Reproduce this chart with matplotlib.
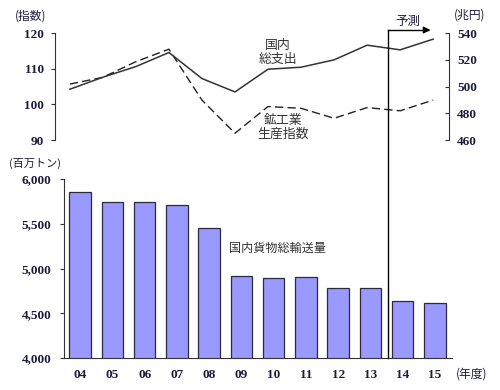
import matplotlib
matplotlib.use('Agg')
import matplotlib.pyplot as plt
from matplotlib.lines import Line2D
import matplotlib.transforms as mtransforms

plt.rcParams['font.family'] = ['Noto Sans CJK JP', 'DejaVu Sans']

# data
years = ['04', '05', '06', '07', '08', '09', '10', '11', '12', '13', '14', '15']
gdp = [498, 507, 515, 525.5, 506, 496, 513, 514.5, 520, 531, 527.5, 535.5]        # 国内総支出 (兆円)
iip = [105.7, 107.6, 112, 115.5, 101.2, 91.9, 99.4, 98.9, 96.1, 99.1, 98.2, 101.2]  # 鉱工業生産指数
freight = [5850, 5740, 5740, 5715, 5455, 4915, 4895, 4900, 4780, 4780, 4635, 4615]  # 国内貨物総輸送量 (百万トン)
forecast_x = 9.55

num_font = dict(family='Liberation Serif', fontweight='bold', color='#1c1c3c')
x = range(len(years))

fig = plt.figure(figsize=(5, 3.9), dpi=100)

# top chart: index and GDP
ax1 = fig.add_axes([0.11, 0.641, 0.788, 0.274])
ax1.plot(x, iip, color='#222222', lw=1, ls=(0, (6, 3)))
ax1.set_ylim(90, 120)
ax1.set_yticks([90, 100, 110, 120])
ax1.set_xlim(-0.45, 11.48)
ax1.set_xticks([])
for s in ['top', 'bottom', 'right']:
    ax1.spines[s].set_visible(False)
ax1.spines['left'].set_color('#333333')
ax1.tick_params(axis='y', length=3, pad=5, color='#333333')
for t in ax1.get_yticklabels():
    t.set(**num_font, fontsize=9.5)

ax2 = ax1.twinx()
ax2.plot(x, gdp, color='#333333', lw=1.1)
ax2.set_ylim(460, 540)
ax2.set_yticks([460, 480, 500, 520, 540])
for s in ['top', 'bottom', 'left']:
    ax2.spines[s].set_visible(False)
ax2.spines['right'].set_color('#333333')
ax2.tick_params(axis='y', direction='in', length=3, pad=6, color='#333333')
for t in ax2.get_yticklabels():
    t.set(**num_font, fontsize=9.5)

fig.text(0.062, 0.958, '(指数)', fontsize=8.5, color='#1c1c3c', ha='center', va='center')
fig.text(0.94, 0.962, '(兆円)', fontsize=8.5, color='#1c1c3c', ha='center', va='center')
fig.text(0.556, 0.866, '国内\n総支出', fontsize=9.3, color='#333333', ha='center', va='center', linespacing=1.05)
fig.text(0.566, 0.674, '鉱工業\n生産指数', fontsize=9.3, color='#333333', ha='center', va='center', linespacing=1.05)

# bottom chart: freight
ax3 = fig.add_axes([0.128, 0.082, 0.776, 0.459])
ax3.bar(x, freight, width=0.67, color='#9999ff', edgecolor='#2a2a40', lw=0.9)
ax3.set_ylim(4000, 6000)
ax3.set_yticks([4000, 4500, 5000, 5500, 6000])
ax3.set_yticklabels(['4,000', '4,500', '5,000', '5,500', '6,000'])
ax3.set_xlim(-0.5, 11.53)
ax3.set_xticks(list(x))
ax3.set_xticklabels(years)
ax3.spines['top'].set_visible(False)
ax3.spines['right'].set_visible(False)
ax3.spines['left'].set_color('#333333')
ax3.spines['bottom'].set_color('#333333')
ax3.tick_params(axis='y', length=3, pad=6, color='#333333')
ax3.tick_params(axis='x', length=0, pad=8)
for t in ax3.get_yticklabels() + ax3.get_xticklabels():
    t.set(**num_font, fontsize=9.5)

fig.text(0.07, 0.582, '(百万トン)', fontsize=8, color='#1c1c3c', ha='center', va='center')
fig.text(0.944, 0.041, '(年度)', fontsize=8.5, color='#1c1c3c', ha='center', va='center')
fig.text(0.556, 0.364, '国内貨物総輸送量', fontsize=8.7, color='#333333', ha='center', va='center')

# forecast marker
trans = mtransforms.blended_transform_factory(ax3.transData, fig.transFigure)
fig.add_artist(Line2D([forecast_x, forecast_x], [0.082, 0.923], transform=trans, color='black', lw=1))
fig.add_artist(Line2D([forecast_x, forecast_x + 1.25], [0.923, 0.923], transform=trans, color='black', lw=1))
ax3.annotate('', xy=(forecast_x + 1.4, 0.923), xytext=(forecast_x + 1.1, 0.923),
             xycoords=trans, textcoords=trans,
             arrowprops=dict(arrowstyle='-|>', color='black', lw=1, mutation_scale=10))
fig.text(0.816, 0.945, '予測', fontsize=9, color='#1c1c3c', ha='center', va='center', style='italic')

plt.savefig('out.png', dpi=100)
